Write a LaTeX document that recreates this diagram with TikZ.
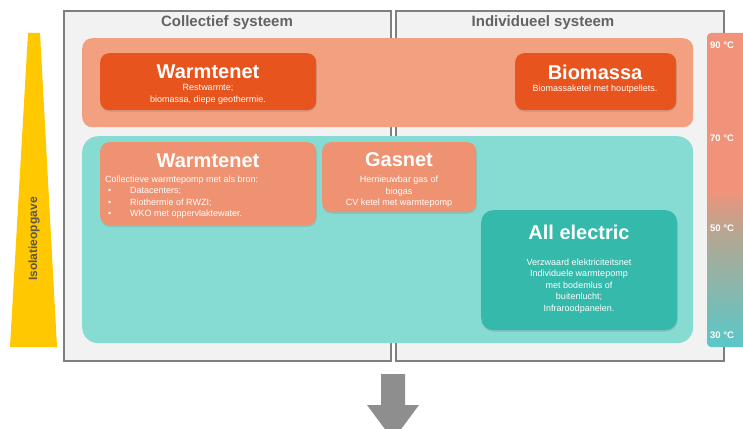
\documentclass[tikz,border=0pt]{standalone}
\usepackage{fontspec}
\setmainfont{Liberation Sans}
\usetikzlibrary{shadows}
\definecolor{panelfill}{HTML}{F2F2F2}
\definecolor{panelborder}{HTML}{7F7F7F}
\definecolor{headgray}{HTML}{636363}
\definecolor{band}{HTML}{F3A080}
\definecolor{salmonbox}{HTML}{EF9272}
\definecolor{darkorange}{HTML}{E8541E}
\definecolor{tealarea}{HTML}{86DCD3}
\definecolor{tealbox}{HTML}{34B9AB}
\definecolor{isoyellow}{HTML}{FFC800}
\definecolor{isotext}{HTML}{5E5545}
\definecolor{bsalm}{HTML}{F0937A}
\definecolor{bmid}{HTML}{B4A792}
\definecolor{bteal}{HTML}{5EC6C6}
\definecolor{arrowgray}{HTML}{8E8E8E}
\pgfdeclareverticalshading{tempbar}{100bp}{color(0bp)=(bteal); color(26bp)=(bteal); color(43bp)=(bmid); color(50bp)=(bsalm); color(100bp)=(bsalm)}
\begin{document}
\begin{tikzpicture}[x=1pt,y=-1pt,
  panel/.style={draw=panelborder, line width=1.6pt, fill=panelfill, inner sep=0pt, anchor=north west},
  area/.style={inner sep=0pt, anchor=north west},
  boxshadow/.style={drop shadow={opacity=0.25, shadow xshift=0.6pt, shadow yshift=-1.6pt}},
  darkbox/.style={area, fill=darkorange, rounded corners=9pt, boxshadow},
  salmbox/.style={area, fill=salmonbox, rounded corners=9pt, boxshadow},
  tealbx/.style={area, fill=tealbox, rounded corners=12pt, boxshadow},
  head/.style={text=headgray, font=\fontsize{15}{17}\selectfont\bfseries},
  boxtitle/.style={text=white, font=\fontsize{20}{22}\selectfont\bfseries},
  subtext/.style={text=white, font=\fontsize{9}{11.4}\selectfont, align=center, inner sep=0pt},
  templabel/.style={text=white, font=\fontsize{9.5}{11}\selectfont\bfseries, anchor=west, inner sep=0pt}]
\useasboundingbox (0,0) rectangle (743,428);
\clip (0,0) rectangle (743,428);

% panels
\node[panel, minimum width=327pt, minimum height=350pt] (coll) at (63,10) {};
\node[panel, minimum width=328pt, minimum height=350pt] (indiv) at (395,10) {};
\node[head] (collT) at (227,23) {Collectief systeem};
\node[head] (indivT) at (543,23) {Individueel systeem};

% background bands
\node[area, fill=band, rounded corners=10pt, minimum width=611pt, minimum height=89pt] (hot) at (82,38) {};
\node[area, fill=tealarea, rounded corners=16pt, minimum width=611pt, minimum height=207pt] (low) at (82,136) {};

% top boxes
\node[darkbox, minimum width=216pt, minimum height=57pt] (wtop) at (100,53) {};
\node[boxtitle] (wtopT) at (208,72) {Warmtenet};
\node[subtext] (wtopS) at (208,94.5) {Restwarmte;\\biomassa, diepe geothermie.};

\node[darkbox, minimum width=161pt, minimum height=57pt] (bio) at (515,53) {};
\node[boxtitle] (bioT) at (595,72) {Biomassa};
\node[subtext] (bioS) at (595,89) {Biomassaketel met houtpellets.};

% lower boxes
\node[salmbox, minimum width=216pt, minimum height=83pt] (wlow) at (100,142) {};
\node[boxtitle] (wlowT) at (208,161) {Warmtenet};
\node[subtext, align=left, anchor=north west] (wlowS) at (105,175.5) {Collectieve warmtepomp met als bron:\\
\hspace*{3pt}\makebox[22pt][l]{\textbullet}Datacenters;\\
\hspace*{3pt}\makebox[22pt][l]{\textbullet}Riothermie of RWZI;\\
\hspace*{3pt}\makebox[22pt][l]{\textbullet}WKO met oppervlaktewater.};

\node[salmbox, minimum width=154pt, minimum height=70pt] (gas) at (322,142) {};
\node[boxtitle] (gasT) at (399,160) {Gasnet};
\node[subtext] (gasS) at (399,192) {Hernieuwbar gas of\\biogas\\CV ketel met warmtepomp};

\node[tealbx, minimum width=196pt, minimum height=120pt] (elec) at (481,210) {};
\node[boxtitle] (elecT) at (579,232) {All electric};
\node[subtext] (elecS) at (579,286) {Verzwaard elektriciteitsnet\\Individuele warmtepomp\\met bodemlus of\\buitenlucht;\\Infraroodpanelen.};

% insulation wedge
\fill[isoyellow] (28,33) -- (40,33) -- (57,347) -- (10,347) -- cycle;
\node[text=isotext, font=\fontsize{12}{14}\selectfont\bfseries, rotate=90] (iso) at (34,239) {Isolatieopgave};

% temperature bar
\shade[shading=tempbar, rounded corners=4pt] (707,33) rectangle (760,347);
\node[templabel] (t90) at (710,45) {90 °C};
\node[templabel] (t70) at (710,138) {70 °C};
\node[templabel] (t50) at (710,228) {50 °C};
\node[templabel] (t30) at (710,335) {30 °C};

% down arrow
\fill[arrowgray] (381,374) -- (405,374) -- (405,405) -- (419,405) -- (393,440) -- (367,405) -- (381,405) -- cycle;
\end{tikzpicture}
\end{document}
